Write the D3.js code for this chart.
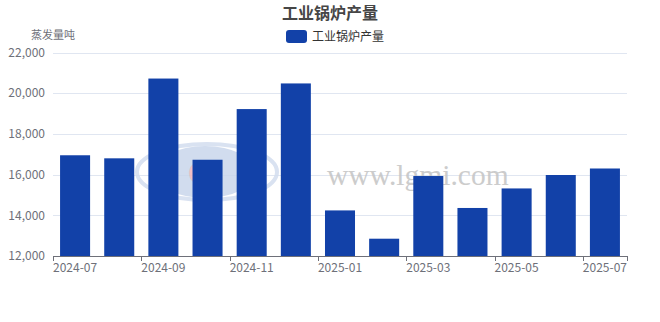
<!DOCTYPE html>
<html>
<head>
<meta charset="UTF-8">
<title>工业锅炉产量</title>
<script src="https://d3js.org/d3.v7.min.js"></script>
<style>
body { margin: 0; background: #fff; }
svg text { font-family: "Noto Sans CJK SC", "Noto Sans", sans-serif; }
</style>
</head>
<body>
<svg id="chart" width="660" height="322"></svg>
<script>
// data
const months = ["2024-07","2024-08","2024-09","2024-10","2024-11","2024-12",
                "2025-01","2025-02","2025-03","2025-04","2025-05","2025-06","2025-07"];
const output = [16950, 16800, 20720, 16730, 19220, 20480,
                14240, 12850, 15930, 14360, 15320, 15980, 16300];
const yTicks = [12000, 14000, 16000, 18000, 20000, 22000];

const svg = d3.select("#chart");
const plotLeft = 53, plotRight = 627, plotTop = 52.5, plotBottom = 256;
const barColor = "#1241a8";

let x = d3.scaleBand()
    .domain(months)
    .range([plotLeft, plotRight])
    .paddingInner(0.32)
    .paddingOuter(0.16);

let y = d3.scaleLinear()
    .domain([12000, 22000])
    .range([plotBottom, plotTop]);

// grid lines
svg.append("g")
    .selectAll("line")
    .data(yTicks.slice(1))
    .enter().append("line")
    .attr("x1", plotLeft).attr("x2", plotRight)
    .attr("y1", d => Math.round(y(d)) + 0.5).attr("y2", d => Math.round(y(d)) + 0.5)
    .attr("stroke", "#e0e6f1");

// watermark (behind the bars)
let wm = svg.append("g").attr("opacity", 0.85);
wm.append("ellipse")
    .attr("cx", 207).attr("cy", 172).attr("rx", 70).attr("ry", 28)
    .attr("fill", "none").attr("stroke", "#d3ddef").attr("stroke-width", 4);
wm.append("ellipse")
    .attr("cx", 205).attr("cy", 172).attr("rx", 50).attr("ry", 26)
    .attr("fill", "#c9d6ec");
wm.append("text")
    .attr("x", 188).attr("y", 184)
    .attr("font-size", 30).attr("font-weight", "bold")
    .attr("fill", "#f2b5bd")
    .style("font-family", "'DejaVu Serif', serif")
    .text("G");
wm.append("text")
    .attr("x", 327).attr("y", 185)
    .attr("font-size", 29.5)
    .attr("fill", "#c4c4c4")
    .style("font-family", "'Liberation Serif', 'DejaVu Serif', serif")
    .text("www.lgmi.com");

// bars
svg.append("g")
    .selectAll("rect")
    .data(months)
    .enter().append("rect")
    .attr("x", d => x(d))
    .attr("width", x.bandwidth())
    .attr("y", (d, i) => y(output[i]))
    .attr("height", (d, i) => plotBottom - y(output[i]))
    .attr("fill", barColor);

// y axis labels
svg.append("g")
    .selectAll("text")
    .data(yTicks)
    .enter().append("text")
    .attr("x", 45)
    .attr("y", d => y(d))
    .attr("dy", "0.35em")
    .attr("text-anchor", "end")
    .attr("font-size", 12)
    .attr("fill", "#6e7079")
    .text(d => d3.format(",")(d));

// x axis
let step = x.step();
let xAxis = svg.append("g");
xAxis.append("line")
    .attr("x1", plotLeft).attr("x2", plotRight)
    .attr("y1", plotBottom + 0.5).attr("y2", plotBottom + 0.5)
    .attr("stroke", "#6e7079");

let tickIdx = d3.range(0, months.length + 1).filter(i => i % 2 === 0 || i === months.length);
xAxis.selectAll("line.tick")
    .data(tickIdx)
    .enter().append("line")
    .attr("class", "tick")
    .attr("x1", i => Math.round(plotLeft + i * step) + 0.5)
    .attr("x2", i => Math.round(plotLeft + i * step) + 0.5)
    .attr("y1", plotBottom).attr("y2", plotBottom + 5)
    .attr("stroke", "#6e7079");

xAxis.selectAll("text")
    .data(months.filter((d, i) => i % 2 === 0))
    .enter().append("text")
    .attr("x", d => x(d) + x.bandwidth() / 2)
    .attr("y", plotBottom + 16)
    .attr("text-anchor", "middle")
    .attr("font-size", 12)
    .attr("fill", "#6e7079")
    .text(d => d);

// axis name
svg.append("text")
    .attr("x", 53).attr("y", 39)
    .attr("text-anchor", "middle")
    .attr("font-size", 11)
    .attr("fill", "#6e7079")
    .text("蒸发量吨");

// title
svg.append("text")
    .attr("x", 330).attr("y", 19)
    .attr("text-anchor", "middle")
    .attr("font-size", 16)
    .attr("font-weight", "bold")
    .attr("fill", "#464646")
    .text("工业锅炉产量");

// legend
svg.append("rect")
    .attr("x", 286).attr("y", 30)
    .attr("width", 21).attr("height", 13)
    .attr("rx", 3)
    .attr("fill", barColor);
svg.append("text")
    .attr("x", 312).attr("y", 37)
    .attr("dy", "0.35em")
    .attr("font-size", 12)
    .attr("fill", "#333")
    .text("工业锅炉产量");
</script>
</body>
</html>
